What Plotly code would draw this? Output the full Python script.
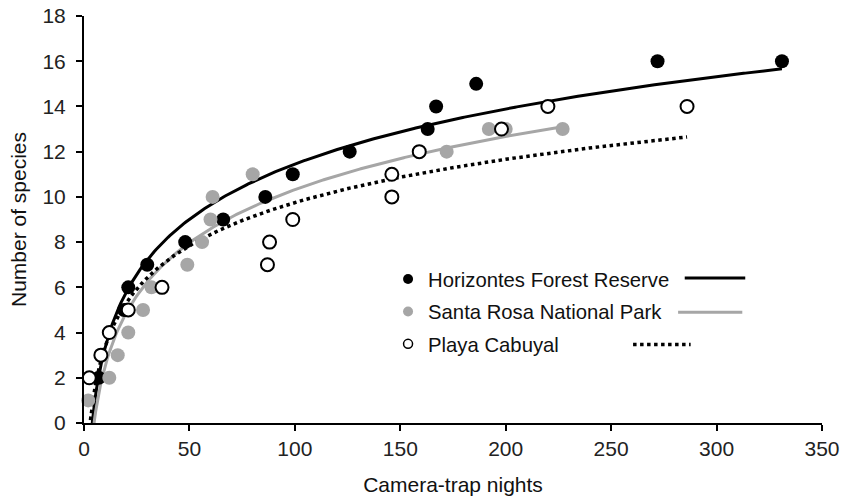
import numpy as np
import plotly.graph_objects as go

# ---- data ----
hor_x = [7, 19, 21, 30, 48, 66, 86, 99, 126, 163, 167, 186, 272, 331]
hor_y = [2, 5, 6, 7, 8, 9, 10, 11, 12, 13, 14, 15, 16, 16]

sr_x = [2, 12, 16, 21, 28, 32, 49, 56, 60, 61, 80, 172, 192, 200, 227]
sr_y = [1, 2, 3, 4, 5, 6, 7, 8, 9, 10, 11, 12, 13, 13, 13]

pc_x = [2.5, 8, 12, 21, 37, 87, 88, 99, 146, 146, 159, 198, 220, 286]
pc_y = [2, 3, 4, 5, 6, 7, 8, 9, 10, 11, 12, 13, 14, 14]

# logarithmic trendlines y = a*ln(x) + b, coefficients
hor_trend = (3.52, -4.76)
sr_trend = (3.39, -5.29)
pc_trend = (2.76, -2.96)

names = ["Horizontes Forest Reserve", "Santa Rosa National Park", "Playa Cabuyal"]
x_ticks = [0, 50, 100, 150, 200, 250, 300, 350]
y_ticks = [0, 2, 4, 6, 8, 10, 12, 14, 16, 18]

GRAY = "#a6a6a6"
TICKFONT = dict(family="Liberation Sans Narrow, Liberation Sans, Arial", size=21, color="#222")
TXTFONT = dict(family="Liberation Sans, Arial", size=21, color="#111")
LEGFONT = dict(family="Liberation Sans, Arial", size=20.3, color="#111")


def trend(coef, xmax):
    a, b = coef
    xx = np.linspace(1, xmax, 400)
    return xx, a * np.log(xx) + b


fig = go.Figure()

series = [
    (hor_x, hor_y, hor_trend, dict(color="black", size=14),
     dict(color="black", size=10), dict(color="black", width=3, dash="solid")),
    (sr_x, sr_y, sr_trend, dict(color=GRAY, size=14),
     dict(color=GRAY, size=10), dict(color=GRAY, width=3, dash="solid")),
    (pc_x, pc_y, pc_trend, dict(color="white", size=13, line=dict(color="black", width=2)),
     dict(color="white", size=9, line=dict(color="black", width=1.5)),
     dict(color="black", width=3.5, dash="dot")),
]

for xs, ys, coef, mk, lmk, ln in series:
    xx, yy = trend(coef, max(xs))
    fig.add_trace(go.Scatter(x=xx, y=yy, mode="lines", line=ln, showlegend=False,
                             hoverinfo="skip"))
for i, (xs, ys, coef, mk, lmk, ln) in enumerate(series):
    fig.add_trace(go.Scatter(x=xs, y=ys, mode="markers", marker=mk, name=names[i],
                             showlegend=False, cliponaxis=False))
    # legend entry with the smaller legend symbol
    fig.add_trace(go.Scatter(x=[None], y=[None], mode="markers", marker=lmk, name=names[i],
                             legendgroup=f"g{i}", showlegend=True))

# legend line samples (to the right of the legend text)
samples = [
    (0.814, 0.896, 0.356, dict(color="black", width=3)),
    (0.805, 0.892, 0.272, dict(color=GRAY, width=3)),
    (0.744, 0.822, 0.193, dict(color="black", width=3.5, dash="dot")),
]
for x0, x1, yy, ln in samples:
    fig.add_shape(type="line", xref="paper", yref="paper", x0=x0, x1=x1, y0=yy, y1=yy,
                  line=ln)

fig.update_layout(
    width=843, height=500,
    margin=dict(l=84, r=21, t=16, b=77),
    paper_bgcolor="white", plot_bgcolor="white",
    font=TXTFONT,
    legend=dict(x=0.412, y=0.402, xanchor="left", yanchor="top",
                bgcolor="rgba(0,0,0,0)", font=LEGFONT,
                tracegroupgap=3, traceorder="grouped"),
    xaxis=dict(range=[0, 350], tickvals=x_ticks, showgrid=False, zeroline=False,
               showline=True, linecolor="black", linewidth=2, ticks="outside",
               ticklen=6, tickwidth=2, tickcolor="black", tickfont=TICKFONT,
               automargin=False,
               title=dict(text="Camera-trap nights", font=TXTFONT, standoff=18)),
    yaxis=dict(range=[0, 18], tickvals=y_ticks, showgrid=False, zeroline=False,
               showline=True, linecolor="black", linewidth=2, ticks="outside",
               ticklen=6, tickwidth=2, tickcolor="black", tickfont=TICKFONT,
               ticklabelstandoff=6, automargin=False,
               title=dict(text="Number of species", font=TXTFONT, standoff=10)),
)

# remove the default page margin so the 843x500 figure fills the window exactly
fig.write_html("out.html",
               config={"displayModeBar": False},
               post_script="document.body.style.margin='0';"
                           "document.body.style.overflow='hidden';")
